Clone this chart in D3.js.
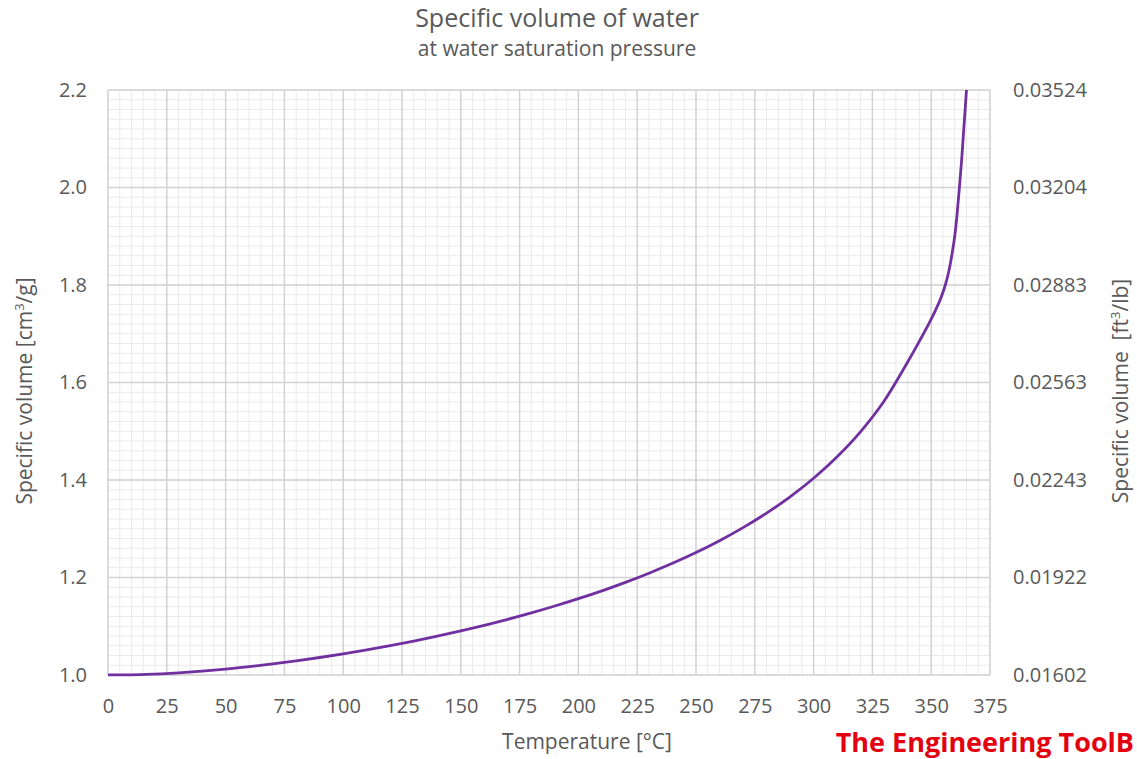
<!DOCTYPE html>
<html><head><meta charset="utf-8">
<script src="https://cdn.jsdelivr.net/npm/d3@7"></script>
<style>
body{margin:0;background:#fff;}
svg{display:block;}
text{font-family:"Open Sans","Noto Sans",sans-serif;fill:#595959;}
</style></head>
<body><svg id="c" width="1137" height="759"></svg>
<script>
const temperatures = [0,10,20,30,40,50,60,70,80,90,100,110,120,130,140,150,160,170,180,190,200,210,220,230,240,250,260,270,280,290,300,310,320,330,340,345,350,352,354,356,357,358,359,360,361,362,363,364,365];
const specificVolume = [1.0002,1.0003,1.0018,1.0044,1.0079,1.0121,1.0171,1.0228,1.0290,1.0359,1.0435,1.0516,1.0603,1.0697,1.0797,1.0905,1.1020,1.1143,1.1274,1.1415,1.1565,1.1726,1.1900,1.2088,1.2291,1.2512,1.2755,1.3023,1.3321,1.3655,1.4036,1.4475,1.4992,1.5620,1.6420,1.6850,1.7300,1.7500,1.7720,1.8000,1.8180,1.8400,1.8680,1.9000,1.9450,2.0000,2.0600,2.1300,2.2000];
const xTicks = [0,25,50,75,100,125,150,175,200,225,250,275,300,325,350,375];
const yTicks = [1.0,1.2,1.4,1.6,1.8,2.0,2.2];
const rightTickLabels = ["0.01602","0.01922","0.02243","0.02563","0.02883","0.03204","0.03524"];

const svg = d3.select("#c");
const L=108, R=990, T=90, B=675;
const x = d3.scaleLinear().domain([0,375]).range([L,R]);
const y = d3.scaleLinear().domain([1.0,2.2]).range([B,T]);

const g = svg.append("g");
// minor grid
const minorX = d3.range(0,375.1,5), minorY = d3.range(1.0,2.2001,0.02);
g.selectAll(".mx").data(minorX).join("line")
  .attr("x1",d=>x(d)).attr("x2",d=>x(d)).attr("y1",T).attr("y2",B)
  .attr("stroke","#eaeaea").attr("stroke-width",1);
g.selectAll(".my").data(minorY).join("line")
  .attr("x1",L).attr("x2",R).attr("y1",d=>y(d)).attr("y2",d=>y(d))
  .attr("stroke","#eaeaea").attr("stroke-width",1);
// major grid
g.selectAll(".Mx").data(xTicks).join("line")
  .attr("x1",d=>x(d)).attr("x2",d=>x(d)).attr("y1",T).attr("y2",B)
  .attr("stroke","#d2d2d2").attr("stroke-width",1.4);
g.selectAll(".My").data(yTicks).join("line")
  .attr("x1",L).attr("x2",R).attr("y1",d=>y(d)).attr("y2",d=>y(d))
  .attr("stroke","#d2d2d2").attr("stroke-width",1.4);

// axes
const xa = svg.append("g").attr("transform",`translate(0,${B})`)
  .call(d3.axisBottom(x).tickValues(xTicks).tickSize(0).tickFormat(d3.format("d")));
xa.selectAll("text").attr("y",38).attr("dy",0);
const ya = svg.append("g").attr("transform",`translate(${L},0)`)
  .call(d3.axisLeft(y).tickValues(yTicks).tickSize(0).tickPadding(21).tickFormat(d3.format(".1f")));
const yr = svg.append("g").attr("transform",`translate(${R},0)`)
  .call(d3.axisRight(y).tickValues(yTicks).tickSize(0).tickPadding(23).tickFormat((d,i)=>rightTickLabels[i]));
[xa,ya,yr].forEach(a=>{a.select(".domain").remove();a.selectAll("text").attr("font-size",20).attr("fill","#595959").attr("font-family","'Open Sans',sans-serif");});

// line
const line = d3.line().x((d,i)=>x(temperatures[i])).y(d=>y(d)).curve(d3.curveMonotoneX);
svg.append("path").datum(specificVolume).attr("d",line)
  .attr("fill","none").attr("stroke","#7030a0").attr("stroke-width",2.8);

// titles
svg.append("text").attr("x",557).attr("y",27).attr("text-anchor","middle").attr("font-size",25).text("Specific volume of water");
svg.append("text").attr("x",557).attr("y",56).attr("text-anchor","middle").attr("font-size",21).text("at water saturation pressure");
svg.append("text").attr("x",587).attr("y",749).attr("text-anchor","middle").attr("font-size",21).text("Temperature [°C]");

const yl = svg.append("text").attr("transform","translate(32,391) rotate(-90)").attr("text-anchor","middle").attr("font-size",21);
yl.append("tspan").text("Specific volume [cm");
yl.append("tspan").attr("font-size",13).attr("dy",-8).text("3");
yl.append("tspan").attr("dy",8).text("/g]");
const yl2 = svg.append("text").attr("transform","translate(1128,391) rotate(-90)").attr("text-anchor","middle").attr("font-size",21);
yl2.append("tspan").style("white-space","pre").text("Specific volume  [ft");
yl2.append("tspan").attr("font-size",13).attr("dy",-8).text("3");
yl2.append("tspan").attr("dy",8).text("/lb]");

// logo
svg.append("text").attr("x",1134).attr("y",752).attr("text-anchor","end").attr("font-size",27).attr("font-weight","bold")
  .attr("font-family","'DejaVu Sans Condensed','Liberation Sans Narrow',sans-serif")
  .style("fill","#e3000f").text("The Engineering ToolB");
</script></body></html>
